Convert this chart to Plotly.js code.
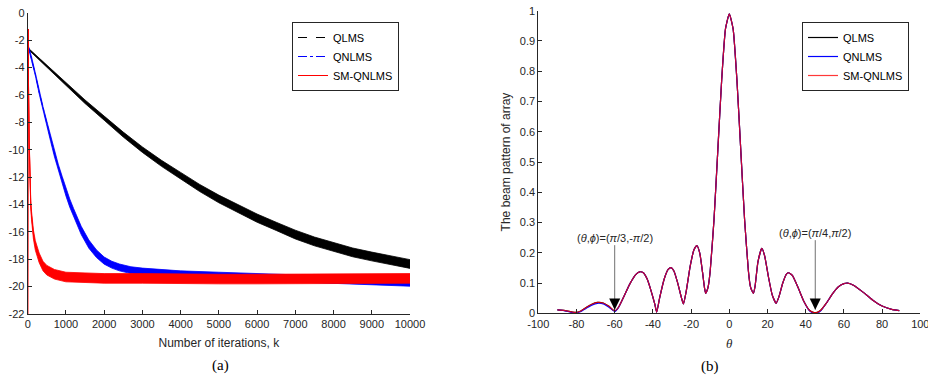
<!DOCTYPE html>
<html>
<head>
<meta charset="utf-8">
<script src="https://cdn.plot.ly/plotly-3.0.1.min.js"></script>
<style>html,body{margin:0;padding:0;background:#fff;}#chart{width:928px;height:388px;}</style>
</head>
<body>
<div id="chart"></div>
<script>
// ---------- (a) learning curves (MSE in dB) ----------
const qlmsK = [0,500,1000,1500,2000,2500,3000,3500,4000,4500,5000,5500,6000,6500,7000,7500,8000,8500,9000,9500,10000];
const qlmsMean = [-2.6,-3.9,-5.2,-6.5,-7.7,-8.9,-10.0,-11.0,-11.9,-12.8,-13.6,-14.3,-15.0,-15.6,-16.2,-16.7,-17.1,-17.5,-17.8,-18.1,-18.35];
const qlmsSpread = [0.05,0.08,0.1,0.13,0.15,0.18,0.2,0.22,0.24,0.26,0.28,0.3,0.3,0.3,0.32,0.32,0.32,0.32,0.32,0.32,0.32];

const qnlmsK = [0,100,200,300,400,500,600,700,800,900,1000,1100,1200,1300,1400,1600,1800,2000,2200,2400,2700,3000,3500,4000,5000,6000,7000,8000,9000,10000];
const qnlmsMean = [-2.3,-3.3,-4.5,-5.8,-7.0,-8.1,-9.2,-10.3,-11.3,-12.2,-13.1,-13.9,-14.6,-15.3,-15.9,-16.9,-17.6,-18.1,-18.4,-18.6,-18.8,-18.9,-19.0,-19.1,-19.2,-19.3,-19.4,-19.5,-19.6,-19.7];
const qnlmsSpread = [0.05,0.08,0.1,0.12,0.15,0.18,0.2,0.22,0.24,0.26,0.28,0.3,0.3,0.3,0.3,0.3,0.28,0.26,0.25,0.25,0.25,0.25,0.25,0.25,0.25,0.25,0.27,0.27,0.27,0.27];

const smK = [0,10,20,40,60,80,100,150,200,300,400,500,700,1000,1500,2000,3000,4000,5000,6000,7000,8000,9000,10000];
const smMean = [-22,-1.2,-5.0,-9.5,-12.5,-14.0,-14.8,-16.2,-17.0,-17.9,-18.5,-18.8,-19.1,-19.3,-19.35,-19.4,-19.4,-19.45,-19.45,-19.45,-19.45,-19.45,-19.45,-19.4];
const smSpread = [0,0,0.1,0.15,0.2,0.25,0.3,0.33,0.35,0.35,0.35,0.35,0.35,0.35,0.35,0.35,0.35,0.35,0.35,0.35,0.35,0.35,0.35,0.35];

const iterTicks = [0,1000,2000,3000,4000,5000,6000,7000,8000,9000,10000];
const mseTicks = [0,-2,-4,-6,-8,-10,-12,-14,-16,-18,-20,-22];

// ---------- (b) beam pattern ----------
const thetaDeg = [-90,-86,-82,-80,-78,-75,-72,-69,-66,-63,-60,-58,-55,-52,-49,-47,-45,-43,-41,-39,-38,-36.5,-34,-32,-30.5,-29,-27,-25,-24,-22.5,-20.5,-18.5,-17,-15.5,-14,-13,-12.4,-11.5,-11,-10,-8,-6,-4,-2,0,2,4,6,8,10,11,11.8,12.6,13.5,15,17,18.5,20.5,22.5,24.5,26,28,30,31,33,36,39,42,44,46,48,51,54,57,60,62,65,70,75,80,85,89];
const beamQLMS = [0.011,0.009,0.004,0.003,0.007,0.019,0.030,0.036,0.034,0.023,0.008,0.02,0.058,0.098,0.128,0.137,0.134,0.113,0.075,0.03,0.004,0.05,0.115,0.145,0.151,0.14,0.1,0.05,0.031,0.075,0.155,0.21,0.224,0.2,0.135,0.085,0.066,0.078,0.09,0.14,0.31,0.54,0.77,0.94,0.99,0.94,0.77,0.54,0.31,0.14,0.09,0.075,0.066,0.09,0.17,0.215,0.19,0.12,0.06,0.033,0.055,0.1,0.13,0.134,0.125,0.085,0.04,0.01,0.003,0.003,0.011,0.035,0.064,0.087,0.098,0.1,0.093,0.07,0.044,0.024,0.013,0.009];
const beamQNLMS = [0.011,0.008,0.002,0.001,0.005,0.016,0.027,0.033,0.031,0.020,0.006,0.019,0.058,0.098,0.128,0.137,0.134,0.113,0.075,0.03,0.004,0.05,0.115,0.145,0.151,0.14,0.1,0.05,0.031,0.075,0.155,0.21,0.224,0.2,0.135,0.085,0.066,0.078,0.09,0.14,0.31,0.54,0.77,0.94,0.99,0.94,0.77,0.54,0.31,0.14,0.09,0.075,0.066,0.09,0.17,0.215,0.19,0.12,0.06,0.033,0.055,0.1,0.13,0.134,0.125,0.085,0.04,0.008,0.0,0.0,0.009,0.035,0.064,0.087,0.098,0.1,0.093,0.07,0.044,0.024,0.013,0.009];
const beamSM = [0.011,0.009,0.004,0.003,0.007,0.019,0.030,0.036,0.034,0.023,0.008,0.02,0.058,0.098,0.128,0.137,0.134,0.113,0.075,0.03,0.004,0.05,0.115,0.145,0.151,0.14,0.1,0.05,0.031,0.075,0.155,0.21,0.224,0.2,0.135,0.085,0.066,0.078,0.09,0.14,0.31,0.54,0.77,0.94,0.99,0.94,0.77,0.54,0.31,0.14,0.09,0.075,0.066,0.09,0.17,0.215,0.19,0.12,0.06,0.033,0.055,0.1,0.13,0.134,0.125,0.085,0.04,0.01,0.003,0.003,0.011,0.035,0.064,0.087,0.098,0.1,0.093,0.07,0.044,0.024,0.013,0.009];
const thetaTicks = [-100,-80,-60,-40,-20,0,20,40,60,80,100];
const beamTicks = [0,0.1,0.2,0.3,0.4,0.5,0.6,0.7,0.8,0.9,1];

const seriesNames = ['QLMS','QNLMS','SM-QNLMS'];
const seriesColors = ['#000000','#0000ff','#ff0000'];

const SANS = "'Liberation Sans', Arial, Helvetica, sans-serif";
const SERIF = "'Liberation Serif', 'Times New Roman', serif";

function band(k, mean, spread, color, name, dash) {
  const lo = mean.map((m, i) => m - spread[i]);
  const hi = mean.map((m, i) => m + spread[i]);
  return [
    {x: k, y: lo, xaxis: 'x', yaxis: 'y', type: 'scatter', mode: 'lines',
     line: {color: color, width: 0.8}, showlegend: false, hoverinfo: 'skip'},
    {x: k, y: hi, xaxis: 'x', yaxis: 'y', type: 'scatter', mode: 'lines', fill: 'tonexty',
     fillcolor: color, line: {color: color, width: 0.8}, showlegend: false, hoverinfo: 'skip'},
    {x: k, y: mean, xaxis: 'x', yaxis: 'y', type: 'scatter', mode: 'lines', name: name,
     line: {color: color, width: 1, dash: dash}, legend: 'legend'}
  ];
}

const traces = [].concat(
  band(qlmsK, qlmsMean, qlmsSpread, seriesColors[0], seriesNames[0], 'dash'),
  band(qnlmsK, qnlmsMean, qnlmsSpread, seriesColors[1], seriesNames[1], 'dashdot'),
  band(smK, smMean, smSpread, seriesColors[2], seriesNames[2], 'solid'),
  [
    {x: thetaDeg, y: beamQLMS, xaxis: 'x2', yaxis: 'y2', type: 'scatter', mode: 'lines', name: seriesNames[0],
     line: {color: '#000000', width: 1.2, shape: 'spline', smoothing: 0.5}, legend: 'legend2'},
    {x: thetaDeg, y: beamQNLMS, xaxis: 'x2', yaxis: 'y2', type: 'scatter', mode: 'lines', name: seriesNames[1],
     line: {color: '#0000ff', width: 1.2, shape: 'spline', smoothing: 0.5}, legend: 'legend2'},
    {x: thetaDeg, y: beamSM, xaxis: 'x2', yaxis: 'y2', type: 'scatter', mode: 'lines', name: seriesNames[2],
     line: {color: 'rgba(255,0,0,0.78)', width: 1.2, shape: 'spline', smoothing: 0.5}, legend: 'legend2'}
  ]
);

const axisBase = {
  showline: true, linecolor: '#262626', linewidth: 1, ticks: 'inside', ticklen: 4,
  tickcolor: '#262626', showgrid: false, zeroline: false, mirror: false,
  ticklabeloverflow: 'allow',
  tickfont: {family: SANS, size: 11, color: '#262626'}
};
const titleFont = {family: SANS, size: 12, color: '#262626'};
const legendBase = {xanchor: 'left', yanchor: 'top', bgcolor: '#ffffff', traceorder: 'normal',
  bordercolor: '#262626', borderwidth: 1, font: {family: SANS, size: 11, color: '#000'}};

const layout = {
  width: 928, height: 388,
  margin: {l: 0, r: 0, t: 0, b: 0},
  paper_bgcolor: '#ffffff', plot_bgcolor: '#ffffff',
  showlegend: true,
  font: {family: SANS},
  xaxis: Object.assign({}, axisBase, {domain: [27.7/928, 410/928], range: [0, 10000],
    tickvals: iterTicks, ticktext: iterTicks.map(String), anchor: 'y',
    title: {text: 'Number of iterations, k', font: titleFont, standoff: 9}}),
  yaxis: Object.assign({}, axisBase, {domain: [(388-314)/388, (388-12.7)/388], range: [-22, 0],
    tickvals: mseTicks, ticktext: mseTicks.map(String), anchor: 'x'}),
  xaxis2: Object.assign({}, axisBase, {domain: [538.3/928, 920.3/928], range: [-100, 100],
    tickvals: thetaTicks, ticktext: thetaTicks.map(String), anchor: 'y2',
    title: {text: '<i>θ</i>', font: {family: SERIF, size: 13, color: '#262626'}, standoff: 10}}),
  yaxis2: Object.assign({}, axisBase, {domain: [(388-313.3)/388, (388-10.7)/388], range: [0, 1],
    tickvals: beamTicks, ticktext: beamTicks.map(String), anchor: 'x2',
    title: {text: 'The beam pattern of array', font: titleFont, standoff: 6}}),
  legend: Object.assign({}, legendBase, {x: 292/928, y: (388-22)/388}),
  legend2: Object.assign({}, legendBase, {x: 802/928, y: (388-22)/388}),
  annotations: [
    {xref: 'x2', yref: 'y2', x: -60, y: 0.012, text: '(<i>θ</i>,<i>ϕ</i>)=(<i>π</i>/3,-<i>π</i>/2)',
     showarrow: true, arrowhead: 0, arrowwidth: 1, arrowcolor: '#707070', ax: 0, ay: -72,
     font: {family: SANS, size: 11, color: '#262626'}},
    {xref: 'x2', yref: 'y2', x: -60, y: 0.012, text: '', showarrow: true, arrowhead: 2, arrowsize: 1.7,
     arrowwidth: 1.3, arrowcolor: '#000000', ax: 0, ay: -12, standoff: 0},
    {xref: 'x2', yref: 'y2', x: 45, y: 0.012, text: '(<i>θ</i>,<i>ϕ</i>)=(<i>π</i>/4,<i>π</i>/2)',
     showarrow: true, arrowhead: 0, arrowwidth: 1, arrowcolor: '#707070', ax: 0, ay: -77,
     font: {family: SANS, size: 11, color: '#262626'}},
    {xref: 'x2', yref: 'y2', x: 45, y: 0.012, text: '', showarrow: true, arrowhead: 2, arrowsize: 1.7,
     arrowwidth: 1.3, arrowcolor: '#000000', ax: 0, ay: -12, standoff: 0},
    {xref: 'paper', yref: 'paper', x: 210/928, y: (388-376)/388, text: '(a)', showarrow: false,
     font: {family: SERIF, size: 15, color: '#000'}},
    {xref: 'paper', yref: 'paper', x: 721/928, y: (388-377)/388, text: '(b)', showarrow: false,
     font: {family: SERIF, size: 15, color: '#000'}}
  ]
};

Plotly.newPlot('chart', traces, layout, {staticPlot: true, displayModeBar: false});
</script>
</body>
</html>
